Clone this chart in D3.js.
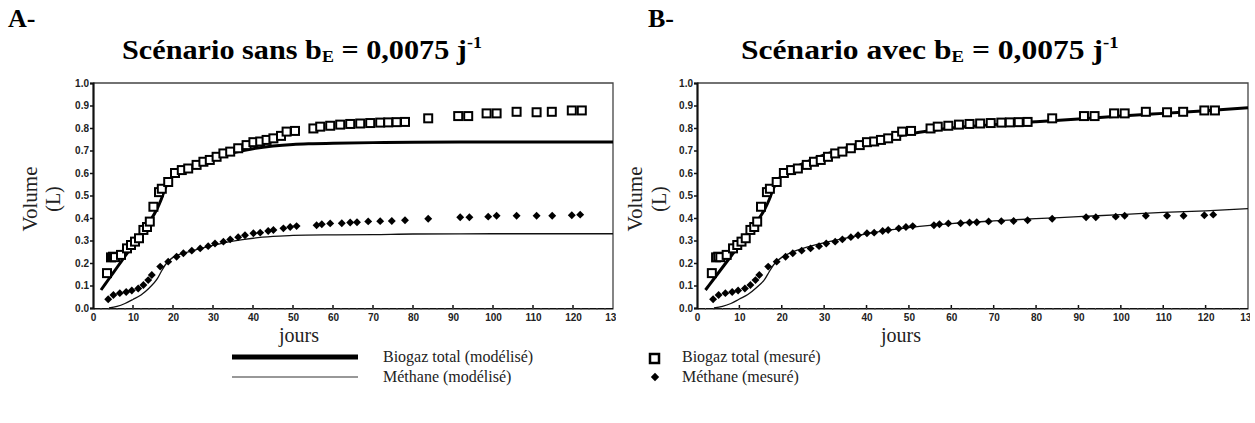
<!DOCTYPE html>
<html><head><meta charset="utf-8">
<script src="https://cdn.jsdelivr.net/npm/d3@7"></script>
<style>body{margin:0;background:#fff;} svg{display:block;}</style>
</head><body>
<svg id="c" width="1255" height="423"></svg>
<script>
// ---- data ----
const yTicks = [0, 0.1, 0.2, 0.3, 0.4, 0.5, 0.6, 0.7, 0.8, 0.9, 1.0];
const xTicks = [0, 10, 20, 30, 40, 50, 60, 70, 80, 90, 100, 110, 120, 130];

const bioDays = [3.5, 4.5, 5, 5.5, 7, 8.5, 9.5, 10.5, 11.5, 12.6, 13.5, 14.2, 15.1, 16.5, 17.2, 18.8, 20.5, 22.2, 23.8, 25.9, 27.6, 29.2, 30.9, 32.6, 34.3, 36.3, 38.4, 40.1, 41.8, 43.4, 45.1, 47, 48.4, 50.5, 55.1, 56.8, 59.3, 61.8, 64.3, 66.8, 69.3, 71.8, 73.8, 75.9, 78, 83.8, 91.3, 93.8, 98.4, 100.9, 105.9, 110.9, 114.7, 119.7, 122.2];
const bioMeasured = [0.155, 0.225, 0.228, 0.226, 0.236, 0.265, 0.28, 0.295, 0.31, 0.347, 0.36, 0.384, 0.45, 0.515, 0.53, 0.56, 0.60, 0.613, 0.62, 0.636, 0.65, 0.658, 0.672, 0.687, 0.695, 0.71, 0.724, 0.737, 0.74, 0.747, 0.754, 0.765, 0.784, 0.787, 0.798, 0.806, 0.81, 0.815, 0.818, 0.82, 0.822, 0.824, 0.825, 0.826, 0.827, 0.843, 0.853, 0.853, 0.865, 0.865, 0.872, 0.87, 0.872, 0.878, 0.878];

const ch4Days = [3.8, 5.1, 6.7, 8.3, 9.7, 11.3, 12.6, 13.8, 14.7, 16.8, 18.8, 20.9, 22.6, 24.7, 26.8, 28.8, 30.5, 32.6, 34.3, 36.3, 38, 40.1, 41.8, 43.8, 45.1, 47.6, 49.3, 50.9, 55.9, 57.2, 59.3, 62.2, 64.3, 66, 68.8, 71.8, 74.7, 78, 83.8, 91.8, 94.1, 98.8, 100.9, 105.9, 110.9, 114.8, 119.7, 121.8];
const ch4Measured = [0.039, 0.058, 0.066, 0.071, 0.078, 0.087, 0.102, 0.124, 0.147, 0.184, 0.206, 0.228, 0.243, 0.255, 0.265, 0.275, 0.287, 0.295, 0.305, 0.315, 0.323, 0.332, 0.335, 0.342, 0.347, 0.354, 0.36, 0.364, 0.368, 0.372, 0.376, 0.377, 0.38, 0.381, 0.385, 0.386, 0.387, 0.39, 0.397, 0.403, 0.403, 0.406, 0.41, 0.41, 0.41, 0.41, 0.412, 0.415];

const modelDaysA = [2, 4, 6, 8, 10, 12, 14, 16, 17, 18, 19, 20, 22, 25, 28, 30, 35, 40, 45, 50, 55, 60, 70, 80, 100, 130];
const bioModelA = [0.08, 0.13, 0.18, 0.23, 0.28, 0.33, 0.38, 0.44, 0.48, 0.53, 0.565, 0.585, 0.61, 0.635, 0.655, 0.667, 0.69, 0.708, 0.72, 0.727, 0.73, 0.732, 0.735, 0.737, 0.738, 0.738];
const ch4DaysA = [4, 6, 8, 10, 12, 14, 16, 17, 18, 19, 20, 22, 25, 30, 35, 40, 45, 50, 60, 70, 80, 100, 130];
const ch4ModelA = [0.0, 0.007, 0.02, 0.038, 0.058, 0.088, 0.128, 0.16, 0.19, 0.21, 0.225, 0.24, 0.255, 0.278, 0.297, 0.31, 0.318, 0.323, 0.325, 0.326, 0.329, 0.33, 0.33];

const modelDaysB = [2, 4, 6, 8, 10, 12, 14, 16, 17, 18, 19, 20, 22, 25, 30, 35, 40, 45, 50, 55, 60, 70, 80, 90, 100, 110, 120, 130];
const bioModelB = [0.08, 0.13, 0.18, 0.23, 0.28, 0.33, 0.38, 0.44, 0.48, 0.53, 0.565, 0.59, 0.615, 0.642, 0.68, 0.71, 0.735, 0.755, 0.773, 0.788, 0.80, 0.815, 0.828, 0.84, 0.853, 0.865, 0.877, 0.89];
const ch4DaysB = [4, 6, 8, 10, 12, 14, 16, 17, 18, 19, 20, 22, 25, 30, 35, 40, 45, 50, 55, 60, 70, 80, 90, 100, 110, 120, 130];
const ch4ModelB = [0.0, 0.007, 0.02, 0.04, 0.06, 0.09, 0.128, 0.16, 0.19, 0.21, 0.225, 0.245, 0.265, 0.29, 0.31, 0.33, 0.345, 0.357, 0.367, 0.375, 0.387, 0.397, 0.406, 0.415, 0.425, 0.432, 0.442];

// ---- drawing ----
const svg = d3.select("#c");
const serif = "'Liberation Serif','Times New Roman',serif";
const sans = "'Liberation Sans',Arial,sans-serif";

function panel(cfg) {
  const x = d3.scaleLinear().domain([0, 130]).range([cfg.x0, cfg.x1]);
  const y = d3.scaleLinear().domain([0, 1]).range([308, 83]);
  const g = svg.append("g");

  const cid = "clip" + cfg.id;
  svg.append("clipPath").attr("id", cid).append("rect")
    .attr("x", cfg.x0 - 40).attr("y", 0).attr("width", cfg.x1 - cfg.x0 + 40 + cfg.clipPad).attr("height", 423);

  g.append("path").attr("d", `M${cfg.x0},${y(1)}H${cfg.x1}V${y(0)}`)
    .attr("fill", "none").attr("stroke", "#444").attr("stroke-width", 1.3);

  const xa = g.append("g").attr("transform", `translate(0,${y(0)})`)
    .call(d3.axisBottom(x).tickValues(xTicks).tickSize(0).tickPadding(6).tickFormat(d3.format("d")));
  xa.select(".domain").attr("stroke", "#111").attr("stroke-width", 2);
  xa.selectAll("text").attr("font-family", sans).attr("font-weight", "bold").attr("font-size", 10).attr("fill", "#222");
  xa.attr("clip-path", `url(#${cid})`);
  g.selectAll(".mj").data(xTicks.slice(1, -1)).enter().append("line")
    .attr("x1", d => x(d)).attr("x2", d => x(d)).attr("y1", y(0)).attr("y2", y(0) - 3)
    .attr("stroke", "#111").attr("stroke-width", 1.5);
  g.selectAll(".mn").data(d3.range(2, 130, 2)).enter().append("line")
    .attr("x1", d => x(d)).attr("x2", d => x(d)).attr("y1", y(0)).attr("y2", y(0) + 2)
    .attr("stroke", "#555").attr("stroke-width", 0.8);

  const ya = g.append("g").attr("transform", `translate(${cfg.x0},0)`)
    .call(d3.axisLeft(y).tickValues(yTicks).tickSize(3).tickPadding(1).tickFormat(d3.format(".1f")));
  ya.select(".domain").attr("stroke", "#111").attr("stroke-width", 2.2);
  ya.selectAll("line").attr("stroke", "#111").attr("stroke-width", 1.5);
  ya.selectAll("text").attr("font-family", sans).attr("font-weight", "bold").attr("font-size", 10).attr("fill", "#222");

  const line = d3.line().x(d => x(d[0])).y(d => y(d[1])).curve(d3.curveMonotoneX);
  g.append("path").datum(d3.zip(cfg.bioDays, cfg.bioModel)).attr("d", line)
    .attr("fill", "none").attr("stroke", "#000").attr("stroke-width", 3);
  g.append("path").datum(d3.zip(cfg.ch4Days, cfg.ch4Model)).attr("d", line)
    .attr("fill", "none").attr("stroke", "#111").attr("stroke-width", 1.3);

  g.selectAll(".sq").data(d3.zip(bioDays, bioMeasured)).enter().append("rect")
    .attr("x", d => x(d[0]) - 4).attr("y", d => y(d[1]) - 4).attr("width", 8).attr("height", 8)
    .attr("fill", "#fff").attr("stroke", "#000").attr("stroke-width", 2);
  const dia = d3.symbol().type(d3.symbolDiamond2).size(40);
  g.selectAll(".dm").data(d3.zip(ch4Days, ch4Measured)).enter().append("path")
    .attr("d", dia).attr("transform", d => `translate(${x(d[0])},${y(d[1])})`).attr("fill", "#000");

  g.append("text").attr("transform", `translate(${cfg.volX},199) rotate(-90)`).attr("text-anchor", "middle")
    .attr("font-family", serif).attr("font-size", 21).attr("fill", "#222").text("Volume");
  g.append("text").attr("transform", `translate(${cfg.lX},199) rotate(-90)`).attr("text-anchor", "middle")
    .attr("font-family", serif).attr("font-size", 20).attr("fill", "#222").text("(L)");
  g.append("text").attr("x", cfg.joursX).attr("y", 342).attr("text-anchor", "middle")
    .attr("font-family", serif).attr("font-size", 20).attr("fill", "#222").text("jours");

  svg.append("text").attr("x", cfg.letterX).attr("y", 27).attr("font-family", serif).attr("font-weight", "bold")
    .attr("font-size", 26).text(cfg.letter);
  const t = svg.append("text").attr("transform", `translate(${cfg.titleX},59) scale(${cfg.titleSx},1)`).attr("font-family", serif)
    .attr("font-weight", "bold").attr("font-size", 27);
  t.append("tspan").text(cfg.title + " b");
  t.append("tspan").attr("font-size", 16).attr("dy", 3).text("E");
  t.append("tspan").attr("dy", -3).text(" = 0,0075 j");
  t.append("tspan").attr("font-size", 16).attr("dy", -11).text("-1");
}

panel({id: "A", x0: 93, x1: 613, clipPad: 3, volX: 37, lX: 60, joursX: 299, letter: "A-", letterX: 8, titleX: 122, titleSx: 1.12,
       title: "Scénario sans", bioDays: modelDaysA, bioModel: bioModelA, ch4Days: ch4DaysA, ch4Model: ch4ModelA});
panel({id: "B", x0: 697, x1: 1248, clipPad: 2, volX: 642, lX: 666, joursX: 901, letter: "B-", letterX: 648, titleX: 741, titleSx: 1.17,
       title: "Scénario avec", bioDays: modelDaysB, bioModel: bioModelB, ch4Days: ch4DaysB, ch4Model: ch4ModelB});

const leg = svg.append("g").attr("font-family", serif).attr("font-size", 16).attr("fill", "#222");
leg.append("line").attr("x1", 232).attr("x2", 358).attr("y1", 357).attr("y2", 357).attr("stroke", "#000").attr("stroke-width", 5);
leg.append("line").attr("x1", 232).attr("x2", 358).attr("y1", 377).attr("y2", 377).attr("stroke", "#333").attr("stroke-width", 1.2);
leg.append("text").attr("x", 383).attr("y", 362).text("Biogaz total (modélisé)");
leg.append("text").attr("x", 383).attr("y", 382).text("Méthane (modélisé)");
leg.append("rect").attr("x", 650).attr("y", 354).attr("width", 9).attr("height", 9).attr("fill", "#fff").attr("stroke", "#000").attr("stroke-width", 2.5);
leg.append("path").attr("d", d3.symbol().type(d3.symbolDiamond2).size(45)).attr("transform", "translate(655,377)").attr("fill", "#000");
leg.append("text").attr("x", 682).attr("y", 362).text("Biogaz total (mesuré)");
leg.append("text").attr("x", 682).attr("y", 382).text("Méthane (mesuré)");
</script>
</body></html>
